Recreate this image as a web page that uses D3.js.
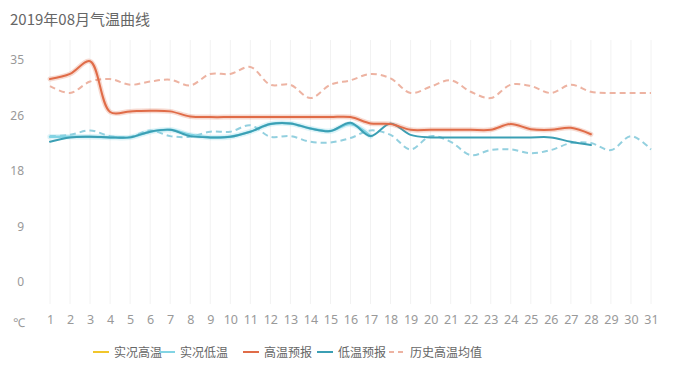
<!DOCTYPE html>
<html>
<head>
<meta charset="utf-8">
<script src="https://cdn.jsdelivr.net/npm/d3@7"></script>
<style>
  html, body { margin: 0; padding: 0; background: #fff; }
  svg { display: block; font-family: "Microsoft YaHei", "Noto Sans CJK SC", "Noto Sans", sans-serif; }
</style>
</head>
<body>
<svg id="chart" width="674" height="366"></svg>
<script>
const title = "2019年08月气温曲线";
const days = d3.range(1, 32);
const yTicks = [0, 9, 18, 26, 35];
const yTickValues = [0, 8.75, 17.5, 26.25, 35];

// 实况高温 (not visible / no data)
const actualHigh = [];
// 实况低温
const actualLow = [22.9, 22.9, 22.9, 22.8, 22.8, 23.7, 24.0, 23.2, 22.8, 22.9, 23.7, 24.9, 25.0, 24.2, 23.8, 24.9, 23.0];
// 高温预报
const highForecast = [32.0, 32.8, 34.8, 26.8, 26.9, 27.0, 26.9, 26.1, 26.0, 26.0, 26.0, 26.0, 26.0, 26.0, 26.0, 26.0, 25.0, 24.9, 24.0, 24.0, 24.0, 24.0, 24.0, 24.9, 24.1, 24.0, 24.3, 23.3];
// 低温预报
const lowForecast = [22.1, 22.8, 22.9, 22.8, 22.8, 23.7, 24.0, 23.0, 22.8, 22.9, 23.7, 24.9, 25.0, 24.2, 23.8, 25.1, 23.0, 25.0, 23.2, 22.8, 22.8, 22.8, 22.8, 22.8, 22.8, 22.8, 22.1, 21.6];
// 历史高温均值
const histHigh = [30.9, 29.8, 31.6, 32.0, 31.1, 31.6, 31.9, 31.0, 32.8, 32.8, 33.9, 31.1, 31.1, 29.0, 31.1, 31.8, 32.8, 32.1, 29.8, 30.8, 31.8, 30.0, 29.0, 31.1, 30.9, 29.8, 31.1, 30.0, 29.8, 29.8, 29.8];
// 历史低温均值
const histLow = [23.0, 23.2, 23.9, 23.0, 22.9, 23.9, 23.0, 22.9, 23.7, 23.7, 24.7, 22.9, 23.0, 22.1, 22.0, 22.7, 23.9, 23.2, 20.9, 23.0, 22.1, 20.0, 20.8, 20.9, 20.3, 20.8, 21.9, 21.9, 20.8, 23.0, 20.9];

const legendNames = ["实况高温", "实况低温", "高温预报", "低温预报", "历史高温均值"];
const colors = {
  actualHigh: "#f1c62b",
  actualLow: "#82d4e4",
  highForecast: "#e06c48",
  lowForecast: "#3b9fb4",
  histHigh: "#edb3a2",
  histLow: "#93d0df"
};

const svg = d3.select("#chart");

const x = d3.scaleLinear().domain([1, 31]).range([50, 651]);
const y = d3.scaleLinear().domain([0, 35]).range([282, 60]);

// title
svg.append("text").attr("x", 10).attr("y", 25)
  .attr("font-size", 15).attr("fill", "#666").text(title);

// vertical grid lines
svg.append("g").selectAll("line").data(days).join("line")
  .attr("x1", d => x(d)).attr("x2", d => x(d))
  .attr("y1", 40).attr("y2", 304)
  .attr("stroke", "#f2f2f2").attr("stroke-width", 1);

// y axis labels
const yAxis = d3.axisLeft(y).tickValues(yTickValues).tickSize(0)
  .tickFormat((d, i) => yTicks[i]);
const gy = svg.append("g").attr("transform", "translate(26,0)").call(yAxis);
gy.select(".domain").remove();
gy.selectAll("text").attr("font-size", 12).attr("fill", "#999")
  .attr("font-family", "\"Noto Sans\", sans-serif").attr("dx", 1);

// x axis labels
const xAxis = d3.axisBottom(x).tickValues(days).tickSize(0).tickFormat(d3.format("d"));
const gx = svg.append("g").attr("transform", "translate(0,312)").call(xAxis);
gx.select(".domain").remove();
gx.selectAll("text").attr("font-size", 12.5).attr("fill", "#999")
  .attr("font-family", "\"Noto Sans\", sans-serif");
svg.append("text").attr("x", 19).attr("y", 327).attr("text-anchor", "middle")
  .attr("font-size", 12).attr("fill", "#999").attr("font-family", "\"Noto Sans\", sans-serif").text("℃");

const line = d3.line().x((d, i) => x(days[i])).y(d => y(d)).curve(d3.curveCatmullRom.alpha(0.5));

function draw(data, color, width, dash, halo) {
  if (!data.length) return;
  if (halo) {
    svg.append("path").attr("d", line(data)).attr("fill", "none")
      .attr("stroke", color).attr("stroke-opacity", 0.25).attr("stroke-width", width + 3)
      .attr("stroke-linejoin", "round").attr("stroke-linecap", "round");
  }
  svg.append("path").attr("d", line(data)).attr("fill", "none")
    .attr("stroke", color).attr("stroke-width", width)
    .attr("stroke-dasharray", dash || null)
    .attr("stroke-linejoin", "round").attr("stroke-linecap", dash ? "butt" : "round");
}

draw(histHigh, colors.histHigh, 2, "6,4");
draw(histLow, colors.histLow, 2, "6,4");
draw(actualLow, colors.actualLow, 2.5, null, true);
draw(actualHigh, colors.actualHigh, 2);
draw(lowForecast, colors.lowForecast, 2, null, false);
draw(highForecast, colors.highForecast, 2, null, true);

// legend
const legendX = [93, 159, 243, 317, 389];
const legendColors = [colors.actualHigh, colors.actualLow, colors.highForecast, colors.lowForecast, colors.histHigh];
const lg = svg.append("g");
legendNames.forEach((name, i) => {
  const g = lg.append("g").attr("transform", `translate(${legendX[i]},352)`);
  g.append("line").attr("x1", 0).attr("x2", 16).attr("y1", 0).attr("y2", 0)
    .attr("stroke", legendColors[i]).attr("stroke-width", 2)
    .attr("stroke-dasharray", i === 4 ? "5,4" : null);
  g.append("text").attr("x", 21).attr("y", 4.5).attr("font-size", 12)
    .attr("fill", "#666").text(name);
});
</script>
</body>
</html>
